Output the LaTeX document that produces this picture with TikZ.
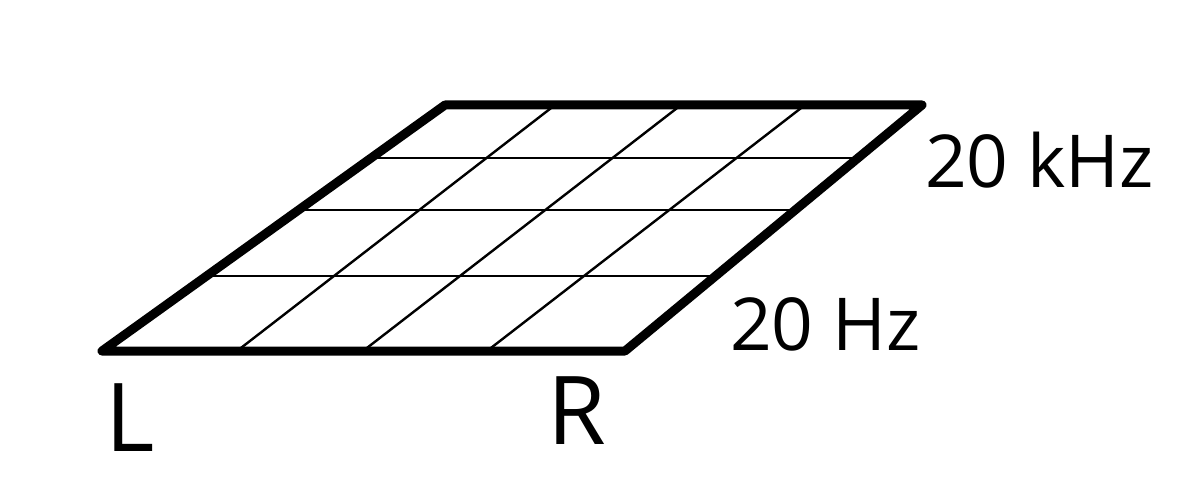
\documentclass[tikz,border=0pt]{standalone}
\usepackage{fontspec}
\setmainfont{Open Sans}
\usetikzlibrary{calc}
\begin{document}
\begin{tikzpicture}[x=1pt,y=-1pt,
  frame/.style={line width=9pt,line join=round,line cap=round},
  gridline/.style={line width=2.4pt},
  smalllabel/.style={inner sep=0pt,anchor=base west,font=\fontsize{73}{80}\selectfont},
  biglabel/.style={inner sep=0pt,anchor=base west,font=\fontsize{95}{100}\selectfont}]
\useasboundingbox (0,0) rectangle (1204,500);
\coordinate (BL) at (102,351);
\coordinate (BR) at (625,351);
\coordinate (TR) at (922,105);
\coordinate (TL) at (445,105);
% horizontal grid lines
\foreach \t in {0.3049,0.5732,0.7846}
  \draw[gridline] ($(BL)!\t!(TL)$) -- ($(BR)!\t!(TR)$);
% slanted grid lines
\foreach \b/\u in {237/555,363/681,487/805}
  \draw[gridline] (\b,351) -- (\u,105);
\draw[frame] (BL) -- (BR) -- (TR) -- (TL) -- cycle;
\node[smalllabel] (khz) at (925,187) {20 kHz};
\node[smalllabel] (hz) at (730,350) {20 Hz};
\node[biglabel] (l) at (105,451) {L};
\node[biglabel] (r) at (547,444) {R};
\end{tikzpicture}
\end{document}
